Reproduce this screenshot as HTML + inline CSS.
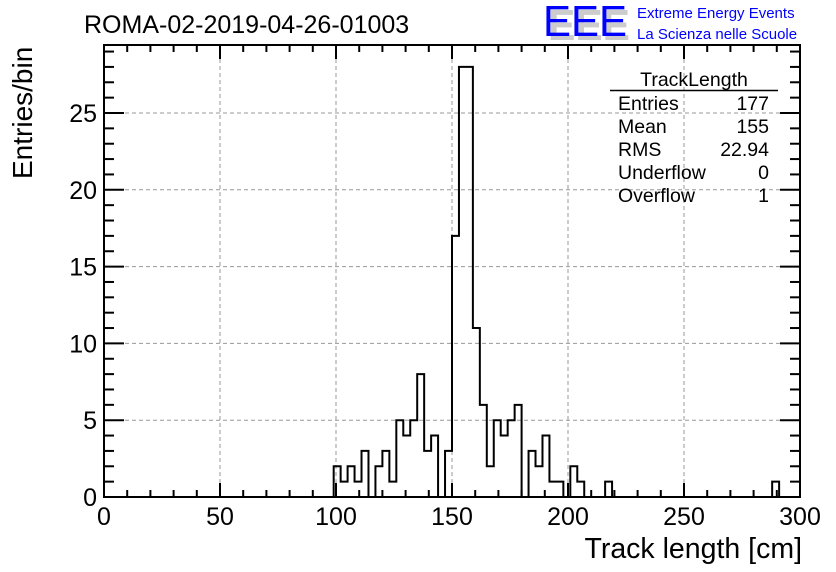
<!DOCTYPE html>
<html><head><meta charset="utf-8"><style>
body{margin:0;background:#fff;}
svg{display:block;font-family:"Liberation Sans",sans-serif;}
</style></head><body>
<svg id="chart" width="836" height="572" viewBox="0 0 836 572">
<rect width="836" height="572" fill="#fff"/>
<text x="84" y="33" font-size="25">ROMA-02-2019-04-26-01003</text>
<g>
<text x="548" y="40" font-size="44" fill="#ccc" font-weight="bold" textLength="82" lengthAdjust="spacingAndGlyphs">EEE</text>
<text x="543" y="36" font-size="44" fill="#0000ff" textLength="84" lengthAdjust="spacingAndGlyphs">EEE</text>
<text x="637" y="18" font-size="15" fill="#0000ff">Extreme Energy Events</text>
<text x="637" y="39" font-size="15" fill="#0000ff">La Scienza nelle Scuole</text>
</g>
<g id="grid"></g>
<path id="hist" fill="none" stroke="#000" stroke-width="2"/>
<rect x="104" y="45" width="696" height="452" fill="none" stroke="#000" stroke-width="2"/>
<g id="ticks"></g>
<g id="labels" font-size="25"></g>
<text x="802" y="558" font-size="28.5" text-anchor="end">Track length [cm]</text>
<text transform="translate(32,179) rotate(-90)" font-size="28" text-anchor="start">Entries/bin</text>
<g font-size="19.5">
<text x="694" y="86" text-anchor="middle">TrackLength</text>
<line x1="610" y1="90.5" x2="778" y2="90.5" stroke="#000" stroke-width="1.5"/>
<text x="618" y="110">Entries</text><text x="769" y="110" text-anchor="end">177</text>
<text x="618" y="133">Mean</text><text x="769" y="133" text-anchor="end">155</text>
<text x="618" y="156">RMS</text><text x="769" y="156" text-anchor="end">22.94</text>
<text x="618" y="179">Underflow</text><text x="769" y="179" text-anchor="end">0</text>
<text x="618" y="202">Overflow</text><text x="769" y="202" text-anchor="end">1</text>
</g>
</svg>
<script>
const binStart = 99;
const binWidth = 3;
const counts = [2,1,2,1,3,0,2,3,1,5,4,5,8,3,4,0,3,17,28,28,11,6,2,5,4,5,6,0,3,2,4,1,1,0,2,1,0,0,0,1];
const extraBinStarts = [288];
const extraCounts = [1];
const xTicks = [0,50,100,150,200,250,300];
const yTicks = [0,5,10,15,20,25];

const X0=104,X1=800,Y0=497,Y1=45;
const xMin=0,xMax=300,yMax=(497-45)/15.36;
const sx=v=>X0+(v-xMin)/(xMax-xMin)*(X1-X0);
const sy=v=>Y0-v/yMax*(Y0-Y1);
const NS="http://www.w3.org/2000/svg";
function mk(tag,attrs,parent){const e=document.createElementNS(NS,tag);for(const k in attrs)e.setAttribute(k,attrs[k]);parent.appendChild(e);return e;}

const grid=document.getElementById('grid');
xTicks.forEach(t=>{if(t>xMin&&t<xMax){const l=mk('line',{x1:sx(t),x2:sx(t),y1:Y0,y2:Y1,stroke:'#999','stroke-dasharray':'4,3'},grid);

}});
yTicks.forEach(t=>{if(t>0){const l=mk('line',{x1:X0,x2:X1,y1:sy(t),y2:sy(t),stroke:'#999','stroke-dasharray':'4,3'},grid);

}});

let d='';
function addHist(starts,vals){
  let prevEnd=null;
  for(let i=0;i<vals.length;i++){
    const a=starts[i],b=a+binWidth;
    if(prevEnd===null||prevEnd!==a){d+=`M${sx(a)},${sy(0)}`;}
    d+=`L${sx(a)},${sy(vals[i])}L${sx(b)},${sy(vals[i])}`;
    prevEnd=b;
  }
  d+=`L${sx(prevEnd)},${sy(0)}`;
}
addHist(counts.map((_,i)=>binStart+i*binWidth),counts);
addHist(extraBinStarts,extraCounts);
document.getElementById('hist').setAttribute('d',d);

const ticks=document.getElementById('ticks');
for(let v=0;v<=300;v+=10){const major=v%50===0;const len=major?14:7;
 mk('line',{x1:sx(v),x2:sx(v),y1:Y0,y2:Y0-len,stroke:'#000','stroke-width':2},ticks);
 mk('line',{x1:sx(v),x2:sx(v),y1:Y1,y2:Y1+len,stroke:'#000','stroke-width':2},ticks);}
for(let v=0;v<=29;v++){const major=v%5===0;const len=major?20:10;
 mk('line',{x1:X0,x2:X0+len,y1:sy(v),y2:sy(v),stroke:'#000','stroke-width':2},ticks);
 mk('line',{x1:X1,x2:X1-len,y1:sy(v),y2:sy(v),stroke:'#000','stroke-width':2},ticks);}

const labels=document.getElementById('labels');
xTicks.forEach(t=>{const e=mk('text',{x:sx(t),y:525,'text-anchor':'middle'},labels);e.textContent=t;

});
yTicks.forEach(t=>{const e=mk('text',{x:97,y:sy(t)+9,'text-anchor':'end'},labels);e.textContent=t;

});
</script>
</body></html>
